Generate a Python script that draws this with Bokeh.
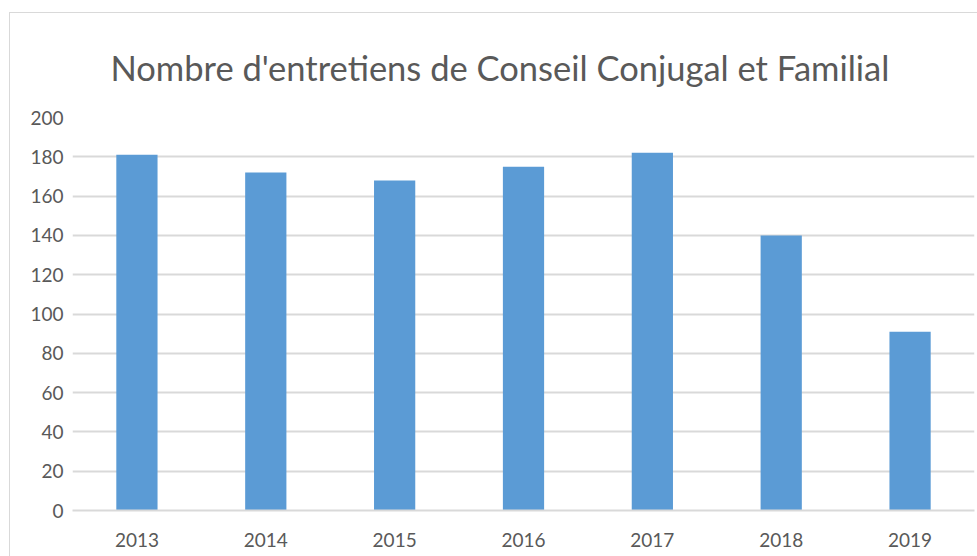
from bokeh.plotting import figure
from bokeh.models import Range1d, FixedTicker
from bokeh.embed import file_html
from bokeh.resources import INLINE

years = ["2013", "2014", "2015", "2016", "2017", "2018", "2019"]
values = [181, 172, 168, 175, 182, 140, 91]
y_ticks = [0, 20, 40, 60, 80, 100, 120, 140, 160, 180, 200]
title_text = "Nombre d'entretiens de Conseil Conjugal et Familial"

TEXT = "#595959"
GRID = "#d9d9d9"
FONT = "Lato"

p = figure(x_range=years, y_range=Range1d(0, 200),
           frame_width=902, frame_height=393,
           min_border_left=62, min_border_right=3, min_border_top=104, min_border_bottom=46,
           output_backend="svg", toolbar_location=None,
           title=title_text,
           styles={"border-left": "1px solid #d9d9d9", "border-top": "1px solid #d9d9d9",
                   "margin-left": "9px", "margin-top": "12px"})

p.vbar(x=years, top=values, width=0.32, color="#5B9BD5", line_color=None)

p.title.text_font = FONT
p.title.text_font_size = "34.5px"
p.title.text_font_style = "normal"
p.title.text_color = TEXT
p.title.align = "left"
p.title.offset = 38
p.title.standoff = 59

p.outline_line_color = None
p.background_fill_color = "white"
p.border_fill_color = "white"

p.xgrid.grid_line_color = None
p.ygrid.grid_line_color = GRID
p.ygrid.grid_line_width = 2
p.ygrid.ticker = FixedTicker(ticks=y_ticks)

p.yaxis.ticker = FixedTicker(ticks=y_ticks)
p.yaxis.axis_line_color = None
p.yaxis.major_tick_line_color = None
p.yaxis.minor_tick_line_color = None
p.yaxis.major_tick_out = 0
p.yaxis.major_tick_in = 0
p.yaxis.major_label_text_font = FONT
p.yaxis.major_label_text_font_size = "19px"
p.yaxis.major_label_text_color = TEXT
p.yaxis.major_label_standoff = 9

p.xaxis.axis_line_color = GRID
p.xaxis.axis_line_width = 2
p.xaxis.major_tick_line_color = None
p.xaxis.minor_tick_line_color = None
p.xaxis.major_tick_out = 0
p.xaxis.major_tick_in = 0
p.xaxis.major_label_text_font = FONT
p.xaxis.major_label_text_font_size = "19px"
p.xaxis.major_label_text_color = TEXT
p.xaxis.major_label_standoff = 22
p.x_range.range_padding = 0

open("out.html", "w").write(file_html(p, INLINE))
